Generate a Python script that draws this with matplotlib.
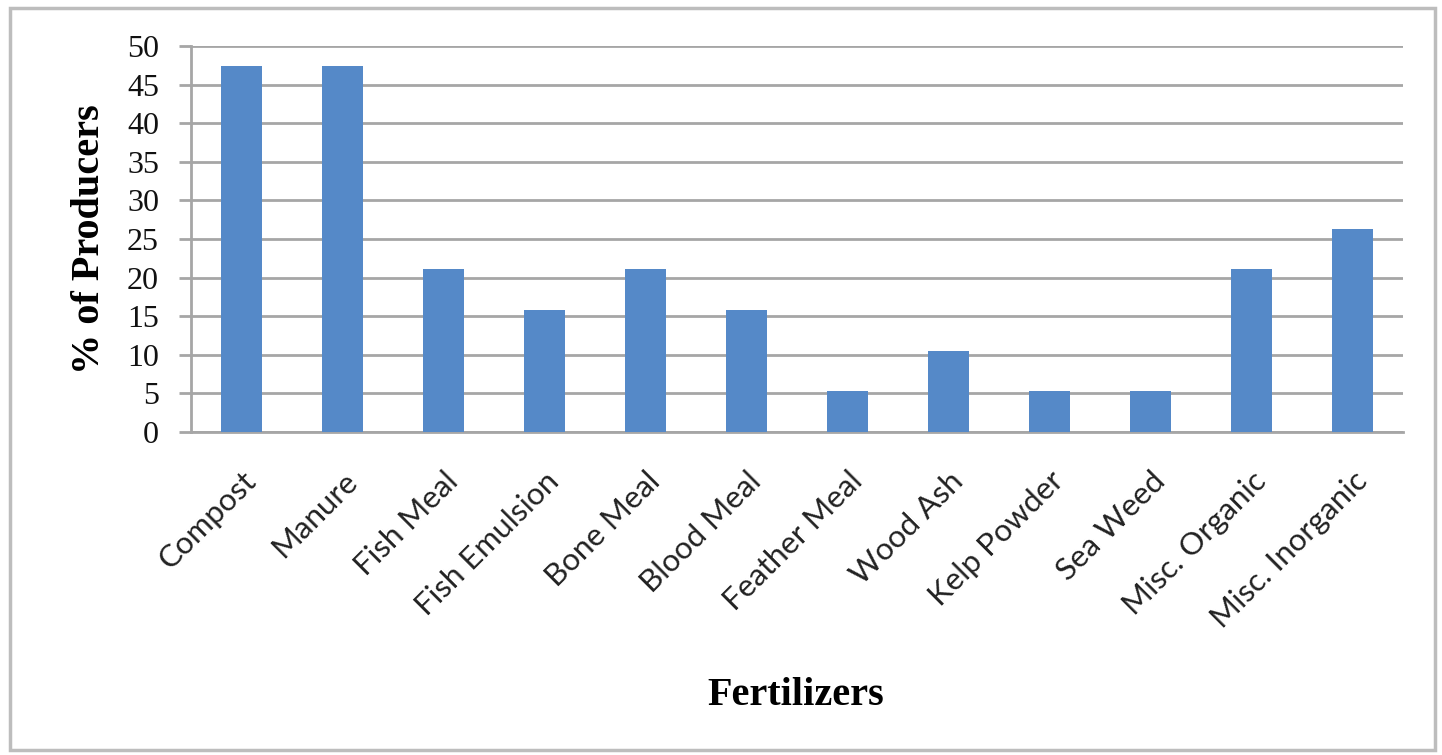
import matplotlib.pyplot as plt
from matplotlib.patches import Rectangle
from matplotlib.transforms import ScaledTranslation

categories = [
    "Compost", "Manure", "Fish Meal", "Fish Emulsion", "Bone Meal",
    "Blood Meal", "Feather Meal", "Wood Ash", "Kelp Powder", "Sea Weed",
    "Misc. Organic", "Misc. Inorganic",
]
percent_producers = [47.4, 47.4, 21.1, 15.8, 21.1, 15.8, 5.3, 10.5, 5.3, 5.3, 21.1, 26.3]
y_ticks = [0, 5, 10, 15, 20, 25, 30, 35, 40, 45, 50]

BAR_COLOR = "#5589C8"
GRID_COLOR = "#A6A6A6"
SERIF = ["Liberation Serif", "DejaVu Serif"]

fig = plt.figure(figsize=(14.42, 7.55), dpi=100)
fig.patches.append(
    Rectangle((0.007, 0.006), 0.988, 0.983, transform=fig.transFigure,
              fill=False, edgecolor="#BDBDBD", linewidth=2.5)
)
ax = fig.add_axes([0.1325, 0.428, 0.8405, 0.511])

x = range(len(categories))
ax.bar(x, percent_producers, width=0.4, color=BAR_COLOR, zorder=3)

ax.set_xlim(-0.5, len(categories) - 0.5)
ax.set_ylim(0, 50)
ax.set_yticks(y_ticks)
ax.set_yticklabels([str(t) for t in y_ticks], fontfamily=SERIF, fontsize=23, color="#111111")
ax.set_xticks(list(x))
ax.set_xticklabels(categories, rotation=45, ha="right", rotation_mode="anchor",
                   fontfamily="Lato", fontsize=22.5, color="#222222")

# nudge the slanted labels a little to the left, like the original
shift = ScaledTranslation(-6 / 100, 0, fig.dpi_scale_trans)
for label in ax.get_xticklabels():
    label.set_transform(label.get_transform() + shift)

ax.yaxis.grid(True, color=GRID_COLOR, linewidth=2, zorder=0)
for side in ("top", "right"):
    ax.spines[side].set_visible(False)
for side in ("left", "bottom"):
    ax.spines[side].set_color(GRID_COLOR)
    ax.spines[side].set_linewidth(2)
ax.tick_params(axis="y", length=9, width=2, color=GRID_COLOR, pad=14)
ax.tick_params(axis="x", length=0, pad=25)

ax.set_ylabel("% of Producers", fontfamily=SERIF, fontweight="bold", fontsize=29, labelpad=14)
fig.text(0.552, 0.079, "Fertilizers", fontfamily=SERIF, fontweight="bold",
         fontsize=29, ha="center", va="center")

fig.savefig("out.png", dpi=100)
